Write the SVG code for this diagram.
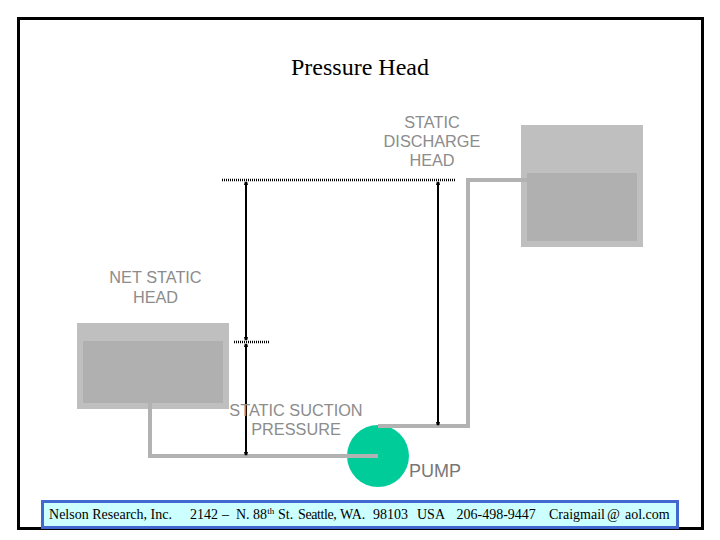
<svg xmlns="http://www.w3.org/2000/svg" width="720" height="540" viewBox="0 0 720 540">
<defs>
<marker id="ah" markerUnits="userSpaceOnUse" markerWidth="6" markerHeight="6" refX="5" refY="3" orient="auto-start-reverse"><path d="M2 1L5.200 1.800V4.200L2 5Z" fill="#000"/></marker>
</defs>
<style>
.lbl{font-family:"Liberation Sans",Arial,sans-serif;font-size:16.3px;fill:#8c8c8c;text-anchor:middle}
.pump{font-size:18px;fill:#777}
.tank{fill:#bfbfbf}
.water{fill:#b0b0b0}
.pipe{fill:none;stroke:#b2b2b2;stroke-width:4}
.dim{stroke:#000;stroke-width:2;fill:none;marker-start:url(#ah);marker-end:url(#ah)}
.datum{stroke:#000;stroke-width:2.4;stroke-dasharray:1 1;fill:none}
.foot{font-family:"Liberation Serif","Times New Roman",serif;font-size:14px;fill:#000}
</style>
<rect x="0" y="0" width="720" height="540" fill="#fff"/>
<rect x="18.500" y="18.500" width="684" height="510" fill="#fff" stroke="#000" stroke-width="3"/>
<text x="360" y="75" text-anchor="middle" style="font-family:'Liberation Serif','Times New Roman',serif;font-size:24px;fill:#000">Pressure Head</text>
<g id="tank-discharge"><rect class="tank" x="521" y="125" width="122" height="122"/><rect class="water" x="527" y="173" width="110" height="68"/></g>
<g id="tank-suction"><rect class="tank" x="77" y="323" width="152" height="86"/><rect class="water" x="83" y="341" width="140" height="62"/></g>
<g id="pump"><circle cx="378" cy="456" r="31" fill="#00cc99"/></g>
<g id="connectors">
<path class="pipe" d="M150 403V456H378"/>
<path class="pipe" d="M378 426H468V180H527"/>
<path class="datum" d="M222 180H455"/>
<path class="datum" d="M234 342H269"/>
<path class="dim" d="M246 182V340"/>
<path class="dim" d="M246 344V455"/>
<path class="dim" d="M438 182V425"/>
</g>
<g id="labels">
<text class="lbl" x="432" y="127.500">STATIC</text>
<text class="lbl" x="432" y="146.500">DISCHARGE</text>
<text class="lbl" x="432" y="165.500">HEAD</text>
<text class="lbl" x="155.500" y="283">NET STATIC</text>
<text class="lbl" x="155.500" y="302.500">HEAD</text>
<text class="lbl" x="296" y="415.500">STATIC SUCTION</text>
<text class="lbl" x="296" y="434.500">PRESSURE</text>
<text class="lbl pump" x="435" y="476.500">PUMP</text>
</g>
<g id="footer">
<rect x="42.500" y="501.500" width="635" height="26" fill="#ccffff" stroke="#4169cf" stroke-width="3"/>
<text class="foot" x="49" y="519" textLength="123">Nelson Research, Inc.</text>
<text class="foot" x="190" y="519">2142<tspan x="222">–</tspan><tspan x="236">N. 88</tspan><tspan font-size="9" dy="-5">th</tspan><tspan dy="5" x="278">St.</tspan><tspan x="298" letter-spacing="-0.4">Seattle,</tspan><tspan x="340">WA.</tspan><tspan x="373">98103</tspan></text>
<text class="foot" x="417" y="519">USA</text>
<text class="foot" x="456.500" y="519">206-498-9447</text>
<text class="foot" x="549" y="519">Craigmail<tspan x="607">@</tspan><tspan x="625">aol.com</tspan></text>
</g>
</svg>
